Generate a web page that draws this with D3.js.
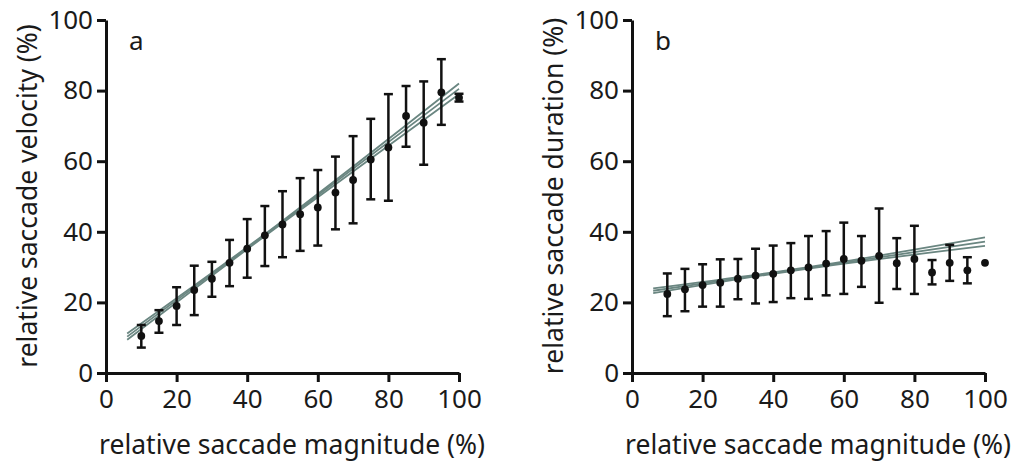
<!DOCTYPE html>
<html>
<head>
<meta charset="utf-8">
<script src="https://cdn.jsdelivr.net/npm/d3@7"></script>
<style>
  body { margin: 0; background: #fff; }
  svg { display: block; }
  text { font-family: "Noto Sans", sans-serif; fill: #1a1a1a; }
</style>
</head>
<body>
<div id="chart"></div>
<script>
// x values shared by both panels
const magnitude = [10, 15, 20, 25, 30, 35, 40, 45, 50, 55, 60, 65, 70, 75, 80, 85, 90, 95, 100];

// panel a: velocity
const velocityMean = [10.5, 14.7, 19.0, 23.5, 26.7, 31.2, 35.2, 39.0, 42.1, 45.0, 46.9, 51.1, 54.7, 60.5, 63.9, 72.8, 70.9, 79.5, 78.0];
const velocityHigh = [13.6, 17.8, 24.3, 30.4, 31.5, 37.7, 43.6, 47.3, 51.5, 55.2, 57.5, 61.3, 67.1, 72.0, 79.0, 81.3, 82.6, 88.9, 79.1];
const velocityLow  = [7.2, 11.4, 13.6, 16.4, 21.6, 24.6, 27.0, 30.3, 32.8, 34.6, 36.1, 40.7, 42.4, 49.2, 48.8, 64.1, 59.0, 70.3, 76.9];

// panel b: duration (last point has no error bar)
const durationMean = [22.4, 23.7, 24.9, 25.6, 26.7, 27.6, 28.1, 29.1, 29.9, 31.0, 32.3, 31.8, 33.2, 31.1, 32.3, 28.5, 31.2, 29.1, 31.2];
const durationHigh = [28.2, 29.5, 30.8, 32.2, 32.3, 35.2, 36.1, 36.8, 38.8, 40.2, 42.6, 38.8, 46.6, 38.2, 41.7, 32.0, 36.3, 32.8, null];
const durationLow  = [16.1, 17.5, 18.8, 18.8, 20.9, 19.7, 20.1, 21.2, 21.0, 22.0, 22.4, 24.4, 19.9, 23.8, 22.4, 25.1, 26.1, 25.4, null];

// regression fit + confidence band, read at three x positions
const fitX = [6, 50, 100];
const velocityFit      = [10.3, 42.8, 80.5];
const velocityFitUpper = [11.2, 43.1, 82.0];
const velocityFitLower = [9.4, 42.5, 79.0];
const durationFit      = [23.3, 29.8, 37.2];
const durationFitUpper = [24.0, 30.0, 38.4];
const durationFitLower = [22.6, 29.6, 36.0];

const ticks = [0, 20, 40, 60, 80, 100];

const width = 1013, height = 473;

const svg = d3.select("#chart").append("svg")
    .attr("width", width)
    .attr("height", height);

function drawPanel(cfg) {
    // cfg.left = pixel position of the y axis
    let x = d3.scaleLinear().domain([0, 100]).range([cfg.left, cfg.left + 353]);
    let y = d3.scaleLinear().domain([0, 100]).range([373, 20]);

    let g = svg.append("g");

    // regression lines
    let line = d3.line()
        .x(d => x(d[0]))
        .y(d => y(d[1]))
        .curve(d3.curveNatural);

    [cfg.fitLower, cfg.fitUpper, cfg.fit].forEach(vals => {
        g.append("path")
            .datum(fitX.map((v, i) => [v, vals[i]]))
            .attr("d", line)
            .attr("fill", "none")
            .attr("stroke", "#6a8681")
            .attr("stroke-width", 1.8);
    });

    let pts = magnitude.map((m, i) => ({m: m, mean: cfg.mean[i], hi: cfg.high[i], lo: cfg.low[i]}));

    // error bars
    let bars = g.selectAll(".err")
        .data(pts.filter(d => d.hi != null))
        .enter().append("g")
        .attr("class", "err")
        .attr("stroke", "#111")
        .attr("stroke-width", 2.5);

    bars.append("line")
        .attr("x1", d => x(d.m)).attr("x2", d => x(d.m))
        .attr("y1", d => y(d.hi)).attr("y2", d => y(d.lo));
    bars.append("line")
        .attr("x1", d => x(d.m) - 4.5).attr("x2", d => x(d.m) + 4.5)
        .attr("y1", d => y(d.hi)).attr("y2", d => y(d.hi));
    bars.append("line")
        .attr("x1", d => x(d.m) - 4.5).attr("x2", d => x(d.m) + 4.5)
        .attr("y1", d => y(d.lo)).attr("y2", d => y(d.lo));

    // means
    g.selectAll(".pt")
        .data(pts)
        .enter().append("circle")
        .attr("class", "pt")
        .attr("cx", d => x(d.m))
        .attr("cy", d => y(d.mean))
        .attr("r", 3.9)
        .attr("fill", "#111");

    // axes
    let yAxis = g.append("g")
        .attr("transform", `translate(${cfg.left},0)`)
        .call(d3.axisLeft(y).tickValues(ticks).tickSize(9).tickSizeOuter(0).tickPadding(4));
    let xAxis = g.append("g")
        .attr("transform", "translate(0,373)")
        .call(d3.axisBottom(x).tickValues(ticks).tickSize(9).tickSizeOuter(0).tickPadding(8));

    [yAxis, xAxis].forEach(ax => {
        ax.select(".domain").attr("stroke", "#111").attr("stroke-width", 3);
        ax.selectAll(".tick line").attr("stroke", "#111").attr("stroke-width", 3);
        ax.selectAll(".tick text")
            .attr("fill", "#1a1a1a")
            .style("font-size", "26px")
            .style("font-family", "'Noto Sans', sans-serif");
    });

    // panel letter
    g.append("text")
        .attr("x", cfg.left + 23)
        .attr("y", 50)
        .style("font-size", "26px")
        .text(cfg.letter);

    // axis titles
    g.append("text")
        .attr("x", cfg.left + 186)
        .attr("y", 454)
        .attr("text-anchor", "middle")
        .style("font-size", "26.5px")
        .text("relative saccade magnitude (%)");

    g.append("text")
        .attr("transform", `translate(${cfg.left - 69},196) rotate(-90)`)
        .attr("text-anchor", "middle")
        .style("font-size", "26.5px")
        .text(cfg.yTitle);
}

drawPanel({
    left: 106, letter: "a", yTitle: "relative saccade velocity (%)",
    mean: velocityMean, high: velocityHigh, low: velocityLow,
    fit: velocityFit, fitUpper: velocityFitUpper, fitLower: velocityFitLower
});

drawPanel({
    left: 632, letter: "b", yTitle: "relative saccade duration (%)",
    mean: durationMean, high: durationHigh, low: durationLow,
    fit: durationFit, fitUpper: durationFitUpper, fitLower: durationFitLower
});
</script>
</body>
</html>
